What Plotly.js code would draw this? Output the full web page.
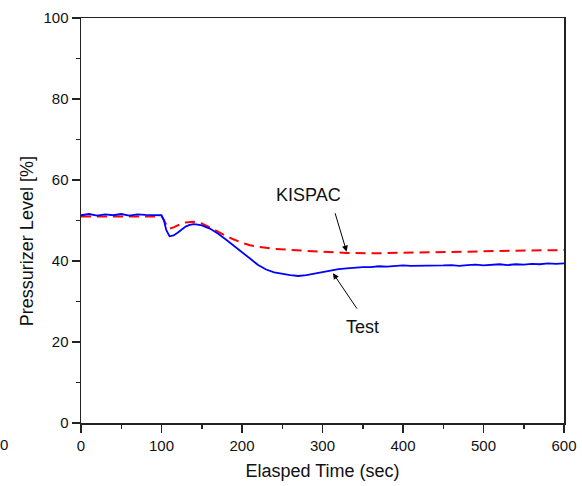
<!DOCTYPE html>
<html>
<head>
<meta charset="utf-8">
<script src="https://cdn.plot.ly/plotly-3.0.1.min.js"></script>
<style>html,body{margin:0;padding:0;background:#fff;}#chart{width:582px;height:486px;}</style>
</head>
<body>
<div id="chart"></div>
<script>
// Test (measured) pressurizer level
var testTime = [0,10,20,30,40,50,60,70,80,90,100,103,106,110,115,120,125,130,135,140,145,150,160,170,180,190,200,210,220,230,240,250,260,270,280,290,300,310,320,330,340,350,360,370,380,390,400,410,420,430,440,450,460,470,480,490,500,510,520,530,540,550,560,570,580,590,600];
var testLevel = [51.3,51.6,51.2,51.5,51.3,51.6,51.2,51.5,51.4,51.3,51.3,50.0,47.6,46.1,46.3,47.0,47.8,48.5,48.9,49.1,49.0,48.8,48.0,46.8,45.3,43.8,42.2,40.6,39.0,37.9,37.2,36.8,36.5,36.3,36.5,36.9,37.3,37.7,38.0,38.2,38.4,38.5,38.5,38.7,38.6,38.7,38.9,38.8,38.8,38.9,38.8,38.9,39.0,38.8,39.0,39.1,38.9,39.1,39.2,39.0,39.2,39.1,39.3,39.2,39.4,39.3,39.4];

// KISPAC simulation
var kispacTime = [0,100,103,107,110,115,120,130,139,150,160,170,180,190,200,210,220,240,260,280,300,330,360,400,440,480,520,560,600];
var kispacLevel = [51.0,51.0,50.2,48.4,48.0,48.3,48.8,49.5,49.7,49.3,48.3,47.2,46.2,45.3,44.5,43.9,43.5,43.0,42.7,42.5,42.3,42.0,41.9,42.0,42.2,42.3,42.5,42.6,42.7];

var xTitle = 'Elasped Time (sec)';
var yTitle = 'Pressurizer Level [%]';

var font = 'Liberation Sans, Arial, sans-serif';

var traces = [
  {x: kispacTime, y: kispacLevel, type: 'scatter', mode: 'lines', name: 'KISPAC',
   line: {color: '#ff0000', width: 2, dash: '10px,6px'}},
  {x: testTime, y: testLevel, type: 'scatter', mode: 'lines', name: 'Test',
   line: {color: '#0000ff', width: 1.8}}
];

var axisCommon = {
  showgrid: false, zeroline: false, showline: true, mirror: true,
  linecolor: '#222', linewidth: 1.5,
  ticks: 'outside', ticklen: 8, tickwidth: 1.5, tickcolor: '#222',
  tickfont: {family: font, size: 15, color: '#111'}
};

var layout = {
  width: 582, height: 486,
  margin: {l: 81, r: 18, t: 18, b: 63},
  paper_bgcolor: '#fff', plot_bgcolor: '#fff',
  showlegend: false,
  xaxis: Object.assign({}, axisCommon, {
    range: [0, 600], dtick: 100, tick0: 0,
    minor: {ticks: 'outside', ticklen: 4, dtick: 50, tickwidth: 1.5, tickcolor: '#222'},
    title: {text: xTitle, font: {family: font, size: 18, color: '#111'}, standoff: 12}
  }),
  yaxis: Object.assign({}, axisCommon, {
    range: [0, 100], dtick: 20, tick0: 0,
    minor: {ticks: 'outside', ticklen: 4, dtick: 10, tickwidth: 1.5, tickcolor: '#222'}
  }),
  annotations: [
    {xref: 'paper', yref: 'paper', x: -0.1118, y: 0.449, text: yTitle, textangle: -90,
     xanchor: 'center', yanchor: 'middle',
     showarrow: false, font: {family: font, size: 18, color: '#111'}},
    {xref: 'paper', yref: 'paper', x: -0.1594, y: -0.0543, text: '0', showarrow: false,
     xanchor: 'center', yanchor: 'middle', font: {family: font, size: 15, color: '#111'}},
    {x: 283.2, y: 56.3, text: 'KISPAC', showarrow: false,
     font: {family: font, size: 18, color: '#111'}},
    {x: 350.3, y: 23.7, text: 'Test', showarrow: false,
     font: {family: font, size: 18, color: '#111'}},
    {x: 330, y: 42.3, ax: -12, ay: -40, text: '', showarrow: true,
     arrowhead: 2, arrowsize: 1.2, arrowwidth: 1, arrowcolor: '#000'},
    {x: 313, y: 37.0, ax: 25, ay: 37, text: '', showarrow: true,
     arrowhead: 2, arrowsize: 1.2, arrowwidth: 1, arrowcolor: '#000'}
  ]
};

Plotly.newPlot('chart', traces, layout, {displayModeBar: false, staticPlot: true});
</script>
</body>
</html>
